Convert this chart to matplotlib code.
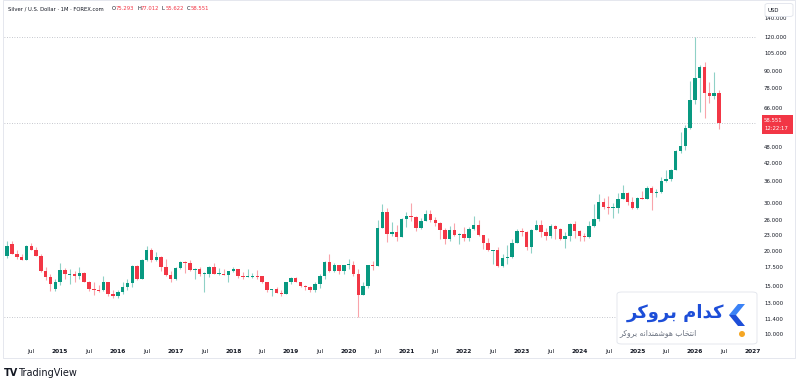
import matplotlib
matplotlib.use("Agg")
import matplotlib.pyplot as plt
import matplotlib.transforms as mtransforms
from matplotlib.patches import FancyBboxPatch, Polygon, Ellipse, Rectangle
import numpy as np

plt.rcParams['font.family'] = ['DejaVu Sans']

# ---------------- data: monthly candles, Feb 2014 .. Jun 2026 ----------------
start_year, start_month = 2014, 2

opens = [
    19.3, 21.3, 19.7, 19.1, 18.7, 21.0, 20.4, 19.4, 17.1, 16.2, 14.7,
    15.6, 17.2, 16.6, 16.6, 16.3, 16.8, 15.6, 14.7, 14.6, 14.5, 15.5, 14.1,
    13.9, 14.3, 14.9, 15.4, 17.8, 16.0, 18.7, 20.3, 18.7, 19.2, 17.7, 16.5,
    15.9, 17.5, 18.4, 18.2, 17.2, 17.4, 16.6, 16.7, 17.6, 16.6, 16.7, 16.5,
    17.0, 17.3, 16.4, 16.3, 16.3, 16.4, 16.3, 15.5, 14.5, 14.7, 14.2, 14.1,
    15.5, 16.1, 15.6, 15.1, 14.9, 14.6, 15.3, 16.4, 18.4, 17.0, 18.0, 17.0,
    17.9, 18.0, 16.7, 14.0, 15.0, 18.0, 17.8, 24.4, 28.0, 23.3, 23.6, 22.6,
    26.3, 26.9, 26.7, 24.5, 25.9, 27.5, 26.1, 25.5, 24.0, 22.2, 24.0, 23.0,
    23.3, 22.4, 24.3, 25.1, 23.0, 21.6, 20.3, 20.3, 17.8, 19.0, 19.2, 21.5,
    23.9, 23.6, 20.8, 24.1, 25.0, 23.6, 22.8, 24.9, 24.3, 22.3, 22.9, 25.2,
    23.8, 22.9, 22.7, 24.9, 26.3, 30.4, 29.1, 28.9, 28.9, 31.1, 32.6, 30.3,
    28.9, 31.3, 31.1, 34.1, 32.6, 33.0, 36.1, 36.7, 39.7, 46.6, 48.6, 56.5,
    71.3, 85.2, 94.0, 75.2, 73.5, 75.293,
]
highs = [
    22.0, 21.9, 20.4, 19.7, 21.2, 21.6, 20.8, 19.6, 17.7, 16.6, 16.0,
    18.3, 17.5, 17.3, 17.0, 17.6, 16.9, 15.7, 15.6, 15.2, 16.4, 15.6, 14.6,
    14.5, 15.6, 16.0, 18.0, 17.9, 18.9, 21.1, 20.6, 20.0, 19.3, 18.9, 17.1,
    17.6, 18.5, 18.6, 18.7, 17.5, 17.7, 16.9, 17.8, 18.2, 17.5, 17.3, 17.1,
    17.7, 17.3, 16.9, 17.3, 16.8, 17.2, 16.4, 15.6, 14.7, 14.9, 14.6, 15.6,
    16.2, 16.2, 15.6, 15.2, 15.0, 15.5, 16.6, 18.6, 19.7, 18.2, 18.0, 18.0,
    18.9, 18.5, 17.3, 15.6, 18.0, 18.5, 26.2, 29.9, 28.9, 25.6, 25.0, 26.5,
    27.9, 30.1, 27.1, 26.5, 28.3, 28.3, 26.8, 25.7, 24.4, 24.8, 25.4, 23.4,
    24.7, 24.6, 26.9, 26.2, 23.0, 22.5, 20.4, 20.9, 19.6, 21.2, 22.2, 24.3,
    24.5, 23.8, 24.2, 26.1, 26.1, 24.5, 25.3, 25.0, 24.4, 23.7, 25.5, 25.9,
    24.1, 23.4, 25.8, 29.8, 32.5, 31.5, 31.8, 30.0, 32.7, 34.9, 33.0, 31.7,
    31.6, 33.4, 34.6, 34.6, 33.7, 37.3, 39.5, 40.1, 46.9, 54.5, 57.8, 83.6,
    120.5, 95.5, 97.5, 82.8, 89.6, 77.012,
]
lows = [
    19.0, 19.6, 18.9, 18.7, 18.7, 20.3, 19.3, 16.9, 15.8, 14.4, 14.4,
    15.2, 15.9, 15.3, 15.6, 15.9, 15.5, 14.4, 14.0, 14.3, 14.4, 13.9, 13.6,
    13.6, 14.1, 14.6, 14.9, 15.8, 15.9, 18.6, 18.4, 18.6, 17.0, 16.3, 15.6,
    15.8, 17.3, 16.8, 17.0, 16.0, 16.4, 14.35, 16.2, 16.6, 16.5, 16.5, 15.6,
    16.9, 16.1, 16.0, 16.2, 16.1, 16.0, 15.4, 14.3, 13.9, 14.2, 13.9, 14.1,
    15.3, 15.6, 14.9, 14.6, 14.3, 14.3, 14.8, 16.0, 16.9, 16.9, 16.6, 16.6,
    17.3, 16.3, 11.6, 14.0, 14.8, 17.2, 17.8, 24.4, 21.7, 22.9, 21.9, 22.6,
    24.7, 25.9, 23.8, 24.3, 25.8, 25.6, 24.8, 22.2, 21.4, 21.9, 22.8, 21.4,
    22.0, 22.0, 24.0, 22.8, 20.5, 20.1, 18.1, 17.6, 17.6, 18.1, 19.0, 21.5,
    22.8, 20.4, 19.9, 24.0, 22.7, 22.1, 22.5, 22.2, 22.1, 20.7, 22.0, 22.5,
    21.9, 21.9, 22.5, 24.6, 26.0, 28.6, 27.5, 26.5, 27.7, 31.1, 29.7, 28.7,
    28.7, 31.1, 31.1, 28.3, 31.7, 32.8, 35.9, 36.2, 39.6, 45.6, 46.9, 56.0,
    69.0, 64.3, 61.0, 69.5, 71.5, 55.622,
]
closes = [
    21.0, 19.7, 19.1, 18.7, 21.0, 20.4, 19.4, 17.1, 16.2, 15.3, 15.6,
    17.2, 16.6, 16.6, 16.3, 16.8, 15.6, 14.7, 14.6, 14.5, 15.5, 14.1, 13.9,
    14.3, 14.9, 15.4, 17.8, 16.0, 18.7, 20.3, 18.7, 19.2, 17.7, 16.5, 15.9,
    17.5, 18.4, 18.2, 17.2, 17.4, 16.6, 16.7, 17.6, 16.6, 16.7, 16.5, 17.0,
    17.3, 16.4, 16.3, 16.3, 16.4, 16.3, 15.5, 14.5, 14.7, 14.2, 14.1, 15.5,
    16.1, 15.6, 15.1, 14.9, 14.6, 15.3, 16.4, 18.4, 17.0, 18.0, 17.0, 17.9,
    18.0, 16.7, 14.0, 15.0, 18.0, 17.8, 24.4, 28.0, 23.3, 23.6, 22.6, 26.3,
    26.9, 26.7, 24.5, 25.9, 27.5, 26.1, 25.5, 24.0, 22.2, 24.0, 23.0, 23.3,
    22.4, 24.3, 25.1, 23.0, 21.6, 20.3, 20.3, 17.8, 19.0, 19.2, 21.5, 23.9,
    23.6, 20.8, 24.1, 25.0, 23.6, 22.8, 24.9, 24.3, 22.3, 22.9, 25.2, 23.8,
    22.9, 22.7, 24.9, 26.3, 30.4, 29.1, 28.9, 28.9, 31.1, 32.6, 30.3, 28.9,
    31.3, 31.1, 34.1, 32.6, 33.0, 36.1, 36.7, 39.7, 46.6, 48.6, 56.5, 71.3,
    85.2, 94.0, 75.2, 73.5, 75.293, 58.551,
]

price_ticks = [140, 120, 105, 90, 78, 66, 48, 42, 36, 30, 26, 23, 20, 17.5, 15, 13, 11.4, 10]
last_time = "12:22:17"
title = "Silver / U.S. Dollar · 1M · FOREX.com"

GREEN = "#089981"
RED = "#F23645"
TXT = "#131722"

W, H = 800, 386
fig = plt.figure(figsize=(W / 100, H / 100), dpi=100)
fig.patch.set_facecolor("white")

def fx(px):
    return px / W

def fy(py):
    return 1 - py / H

# plot pane: x 4..757, y 0..343 (pixels)
ax = fig.add_axes([fx(4), fy(343), fx(757) - fx(4), fy(0) - fy(343)])
ax.set_facecolor("white")
ax.set_yscale("log")
ax.set_ylim(9.354, 163.8)
ax.set_xlim(-0.665, 155.9)
for s in ax.spines.values():
    s.set_visible(False)
ax.set_xticks([])
ax.set_yticks([])
ax.yaxis.set_minor_locator(matplotlib.ticker.NullLocator())

n = len(closes)
idx = np.arange(n)
o = np.array(opens); h = np.array(highs); l = np.array(lows); c = np.array(closes)
up = c >= o
cols = np.where(up, GREEN, RED)

# reference lines (high, last, low)
for v in (h.max(), c[-1], l.min()):
    ax.axhline(v, color="#b2b5be", lw=0.6, ls=(0, (1, 2)), zorder=1)

# wicks
for i in range(n):
    ax.vlines(idx[i], l[i], h[i], color=cols[i], alpha=0.45, lw=0.8, zorder=2)

# bodies (min visible height ~1px)
bw = 0.72
for i in range(n):
    lo, hi = min(o[i], c[i]), max(o[i], c[i])
    if np.log(hi / lo) < 0.009:
        m = np.sqrt(hi * lo)
        lo, hi = m * np.exp(-0.0045), m * np.exp(0.0045)
    ax.bar(idx[i], hi - lo, bottom=lo, width=bw, color=cols[i], lw=0, zorder=3)

# x axis labels
trans_x = mtransforms.blended_transform_factory(ax.transData, ax.transAxes)
for k in range(13):
    ax.text(5 + 12 * k, -8.5 / 343, "Jul", transform=trans_x, ha="center", va="center",
            fontsize=4.2, color=TXT, clip_on=False)
    ax.text(11 + 12 * k, -8.5 / 343, str(2015 + k), transform=trans_x, ha="center", va="center",
            fontsize=4.2, color=TXT, fontweight="bold", clip_on=False)

# y axis labels
trans_y = mtransforms.blended_transform_factory(ax.transAxes, ax.transData)
xr = (764 - 4) / 753
for t in price_ticks:
    ax.text(xr, t, f"{t:.3f}", transform=trans_y, ha="left", va="center", fontsize=3.9,
            color=TXT, clip_on=False)

# current price tag
fig.patches.append(Rectangle((fx(762), fy(133.5)), fx(31), fy(115) - fy(133.5),
                             transform=fig.transFigure, color=RED, lw=0, zorder=5))
fig.text(fx(764), fy(120.5), f"{closes[-1]:.3f}", color="white", fontsize=3.9,
         ha="left", va="center", zorder=6)
fig.text(fx(764), fy(128.5), last_time, color="white", fontsize=3.9,
         ha="left", va="center", zorder=6)

# USD box
fig.patches.append(FancyBboxPatch((fx(765), fy(16.5)), fx(28), fy(3.5) - fy(16.5),
                                  boxstyle="round,pad=0,rounding_size=0.004",
                                  transform=fig.transFigure, facecolor="white",
                                  edgecolor="#e0e3eb", lw=0.6, zorder=5))
fig.text(fx(768), fy(10), "USD", color=TXT, fontsize=3.9, ha="left", va="center", zorder=6)

# header
fig.text(fx(8), fy(9), title, color=TXT, fontsize=3.8, ha="left", va="center")
vals = [("O", opens[-1], 112), ("H", highs[-1], 137), ("L", lows[-1], 162), ("C", closes[-1], 187)]
for letter, v, px in vals:
    fig.text(fx(px), fy(9), letter, color=TXT, fontsize=3.8, ha="left", va="center")
    fig.text(fx(px + 3.2), fy(9), f"{v:.3f}", color=RED, fontsize=3.8, ha="left", va="center")

# widget border
fig.patches.append(Rectangle((fx(3), fy(358)), fx(795) - fx(3), fy(0) - fy(358),
                             transform=fig.transFigure, facecolor="none",
                             edgecolor="#e0e3eb", lw=0.6, zorder=0))

# TradingView logo
fig.text(fx(4), fy(373), "TV", color=TXT, fontsize=7, fontweight="bold", ha="left", va="center")
fig.text(fx(18), fy(373), "TradingView", color=TXT, fontsize=7, ha="left", va="center")

# broker watermark box
fig.patches.append(FancyBboxPatch((fx(617), fy(344)), fx(140), fy(292) - fy(344),
                                  boxstyle="round,pad=0,rounding_size=0.006",
                                  transform=fig.transFigure, facecolor="white",
                                  edgecolor="#e0e3eb", lw=0.6, zorder=4))
line1 = "\ufb90\ufeaa\ufe8d\ufee1 \ufe91\ufeae\ufeed\ufb90\ufeae"[::-1]
line2 = ("\ufe8d\ufee7\ufe98\ufea8\ufe8e\ufe8f "
         "\ufeeb\ufeee\ufeb7\ufee4\ufee8\ufeaa\ufe8d\ufee7\ufeea "
         "\ufe91\ufeae\ufeed\ufb90\ufeae")[::-1]
fig.text(fx(724), fy(313), line1, color="#1d4ed8", fontsize=13, fontweight="bold",
         ha="right", va="center", zorder=6, family=["DejaVu Sans"])
fig.text(fx(697), fy(333), line2, color="#6b7280", fontsize=5.5,
         ha="right", va="center", zorder=6, family=["DejaVu Sans"])
chev_top = [(738, 304), (745, 304), (736, 315), (729, 315)]
chev_bot = [(729, 315), (736, 315), (745, 326), (738, 326)]
fig.patches.append(Polygon([(fx(a), fy(b)) for a, b in chev_top], closed=True,
                           transform=fig.transFigure, color="#3b82f6", lw=0, zorder=6))
fig.patches.append(Polygon([(fx(a), fy(b)) for a, b in chev_bot], closed=True,
                           transform=fig.transFigure, color="#1d4ed8", lw=0, zorder=6))
fig.patches.append(Ellipse((fx(742), fy(334)), 6 / W, 6 / H, transform=fig.transFigure,
                           color="#f5a623", lw=0, zorder=6))

fig.savefig("out.png", dpi=100, facecolor="white")
